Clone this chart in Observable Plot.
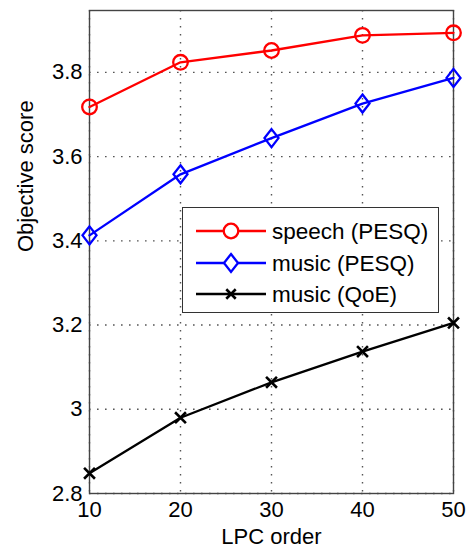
<!DOCTYPE html>
<html>
<head>
<meta charset="utf-8">
<script src="https://cdn.jsdelivr.net/npm/d3@7"></script>
<script src="https://cdn.jsdelivr.net/npm/@observablehq/plot@0.6"></script>
<style>
  html, body { margin: 0; padding: 0; background: #fff; }
  #wrap { position: relative; width: 471px; height: 554px; font-family: "Liberation Sans", Arial, sans-serif; }
  #legend { position: absolute; left: 182px; top: 207px; width: 257px; height: 106px; border: 1.2px solid #333; background: #fff; box-sizing: border-box; }
  #legend svg { position: absolute; left: 0; top: 0; }
</style>
</head>
<body>
<div id="wrap"></div>
<script>
const lpcOrders = [10, 20, 30, 40, 50];
const speechPESQ = [3.718, 3.824, 3.852, 3.888, 3.894];
const musicPESQ = [3.413, 3.558, 3.644, 3.726, 3.787];
const musicQoE = [2.848, 2.980, 3.064, 3.137, 3.205];
const seriesNames = ["speech (PESQ)", "music (PESQ)", "music (QoE)"];
const seriesColors = ["#ff0000", "#0000ff", "#000000"];
const xTicks = [10, 20, 30, 40, 50];
const yTicks = [2.8, 3, 3.2, 3.4, 3.6, 3.8];

// MATLAB-style tall diamond
const tallDiamond = {
  draw(ctx, size) {
    const w = 7, h = 9;
    ctx.moveTo(0, -h); ctx.lineTo(w, 0); ctx.lineTo(0, h); ctx.lineTo(-w, 0); ctx.closePath();
  }
};
const seriesSymbols = ["circle", tallDiamond, "times"];

const allValues = [speechPESQ, musicPESQ, musicQoE];
const data = [];
allValues.forEach((vals, si) => vals.forEach((v, i) => data.push({series: seriesNames[si], x: lpcOrders[i], y: v, si})));

const font = '"Liberation Sans", Arial, sans-serif';
const grid = {stroke: "#555", strokeOpacity: 1, strokeDasharray: "1.6,6.4", strokeWidth: 1.4};
const marks = [
  Plot.gridX(xTicks, grid),
  Plot.gridY(yTicks, grid),
  Plot.axisX(xTicks, {tickSize: 0, tickPadding: 8, fontSize: 22, tickFormat: d => String(d), label: null}),
  Plot.axisY(yTicks, {tickSize: 0, tickPadding: 7, fontSize: 22, tickFormat: d => String(d), label: null}),
  Plot.frame({stroke: "#444", strokeWidth: 1.4}),
];
seriesNames.forEach((name, si) => {
  const d = data.filter(r => r.si === si);
  marks.push(Plot.line(d, {x: "x", y: "y", stroke: seriesColors[si], strokeWidth: 2.3}));
  marks.push(Plot.dot(d, {x: "x", y: "y", stroke: seriesColors[si], fill: "none", symbol: seriesSymbols[si],
    r: si === 0 ? 7.3 : (si === 1 ? 7.5 : 5), strokeWidth: si === 2 ? 2.6 : 2.3}));
});

const chart = Plot.plot({
  width: 471,
  height: 554,
  marginLeft: 89,
  marginRight: 18,
  marginTop: 10,
  marginBottom: 61,
  style: {fontFamily: font, fontSize: "22px", background: "#fff", color: "#000"},
  x: {domain: [10, 50], label: null},
  y: {domain: [2.8, 3.947], label: null},
  marks: [
    ...marks,
    Plot.text(["LPC order"], {frameAnchor: "bottom", dy: 50, fontSize: 22, fill: "#000"}),
    Plot.text(["Objective score"], {frameAnchor: "left", dx: -64, rotate: -90, fontSize: 22, fill: "#000"})
  ]
});
const wrap = document.getElementById("wrap");
wrap.appendChild(chart);

// legend overlay
const legend = document.createElement("div");
legend.id = "legend";
const ns = "http://www.w3.org/2000/svg";
const svg = document.createElementNS(ns, "svg");
svg.setAttribute("width", 257); svg.setAttribute("height", 106);
const rowY = [23, 55, 86];
seriesNames.forEach((name, i) => {
  const y = rowY[i];
  const line = document.createElementNS(ns, "line");
  line.setAttribute("x1", 13); line.setAttribute("x2", 83); line.setAttribute("y1", y); line.setAttribute("y2", y);
  line.setAttribute("stroke", seriesColors[i]); line.setAttribute("stroke-width", 2.3);
  svg.appendChild(line);
  const sym = d3.symbol(i === 0 ? d3.symbolCircle : i === 1 ? tallDiamond : d3.symbolTimes, i === 2 ? 60 : 167)();
  const p = document.createElementNS(ns, "path");
  p.setAttribute("d", sym); p.setAttribute("transform", `translate(48,${y})`);
  p.setAttribute("fill", "#fff"); p.setAttribute("stroke", seriesColors[i]); p.setAttribute("stroke-width", i === 2 ? 2.6 : 2.3);
  svg.appendChild(p);
  const t = document.createElementNS(ns, "text");
  t.setAttribute("x", 89); t.setAttribute("y", y); t.setAttribute("dy", "0.35em");
  t.setAttribute("font-size", 22.5); t.setAttribute("font-family", font);
  t.textContent = name;
  svg.appendChild(t);
});
legend.appendChild(svg);
wrap.appendChild(legend);
</script>
</body>
</html>
